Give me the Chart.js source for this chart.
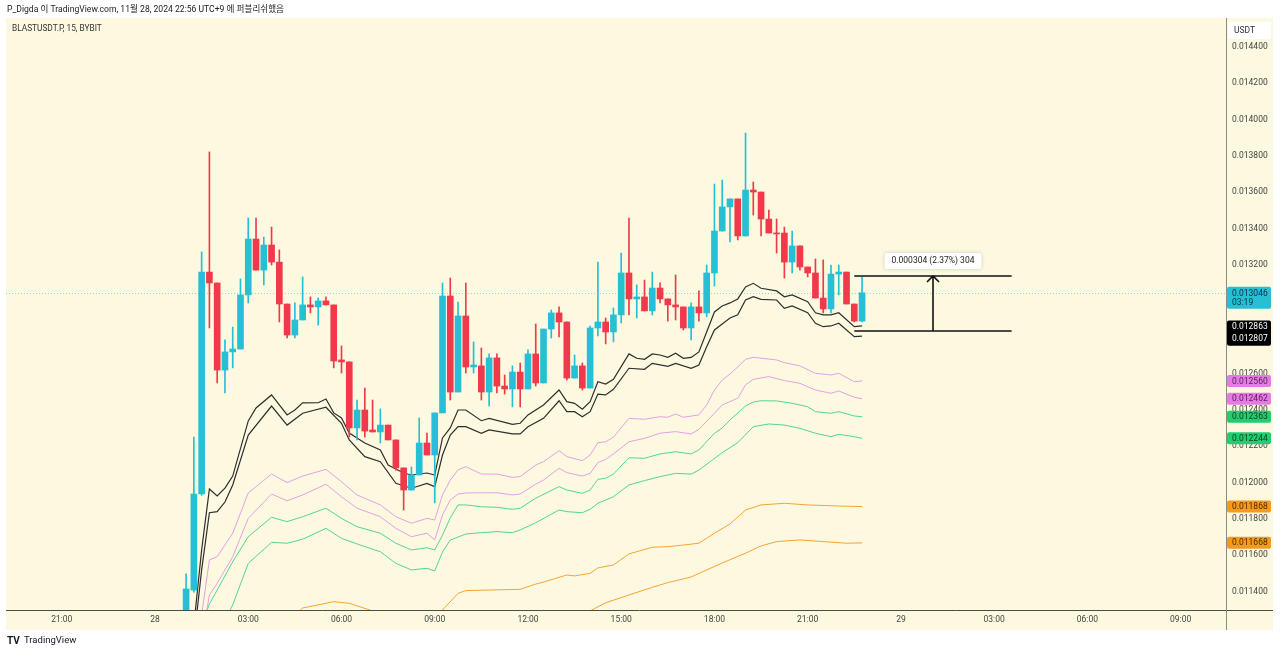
<!DOCTYPE html>
<html>
<head>
<meta charset="utf-8">
<script src="https://cdn.jsdelivr.net/npm/chart.js@4"></script>
<style>
  html, body { margin: 0; padding: 0; background: #fff; }
  #c { display: block; }
</style>
</head>
<body>
<canvas id="c" width="1280" height="654"></canvas>
<script>
// 15 minute bars, x value = bar number counted from 28 00:00
const firstBar = 4;
const openP = [0.011230,0.011408,0.011937,0.013160,0.013100,0.012620,0.012720,0.012736,0.013034,0.013342,
  0.013171,0.013309,0.013215,0.012984,0.012813,0.012896,0.012979,0.012968,0.013001,0.012979,
  0.012676,0.012665,0.012301,0.012400,0.012290,0.012279,0.012317,0.012235,0.012081,0.011959,
  0.012042,0.012218,0.012152,0.012384,0.013028,0.012499,0.012918,0.012637,0.012643,0.012499,
  0.012687,0.012532,0.012516,0.012609,0.012516,0.012709,0.012549,0.012846,0.012935,0.012885,
  0.012576,0.012643,0.012521,0.012852,0.012885,0.012830,0.012924,0.013155,0.013012,0.013023,
  0.012946,0.013072,0.013012,0.012979,0.012968,0.012852,0.012968,0.012935,0.013155,0.013386,
  0.013519,0.013563,0.013359,0.013612,0.013601,0.013452,0.013375,0.013375,0.013215,0.013304,
  0.013188,0.013155,0.013017,0.012957,0.013149,0.013160,0.012984,0.012890];
const highP = [0.011497,0.012251,0.013271,0.013822,0.013100,0.012786,0.012857,0.013122,0.013458,0.013458,
  0.013353,0.013408,0.013282,0.012984,0.012990,0.013133,0.013023,0.013017,0.013023,0.012979,
  0.012753,0.012665,0.012455,0.012521,0.012455,0.012406,0.012317,0.012235,0.012081,0.012086,
  0.012356,0.012273,0.012384,0.013100,0.013127,0.012995,0.013100,0.012775,0.012742,0.012709,
  0.012709,0.012593,0.012643,0.012659,0.012731,0.012874,0.012846,0.012951,0.012968,0.012885,
  0.012703,0.012659,0.012863,0.013215,0.012907,0.012962,0.013265,0.013458,0.013089,0.013116,
  0.013160,0.013100,0.013012,0.013144,0.012968,0.012990,0.013056,0.013199,0.013645,0.013667,
  0.013563,0.013563,0.013926,0.013656,0.013601,0.013502,0.013452,0.013408,0.013386,0.013304,
  0.013188,0.013232,0.013227,0.013199,0.013199,0.013160,0.012984,0.013133];
const lowP = [0.011200,0.011397,0.011930,0.012852,0.012549,0.012494,0.012632,0.012736,0.012990,0.013171,
  0.013089,0.013199,0.012885,0.012797,0.012797,0.012896,0.012935,0.012868,0.012979,0.012632,
  0.012604,0.012251,0.012235,0.012251,0.012279,0.012218,0.012235,0.012069,0.011849,0.011959,
  0.012042,0.012152,0.011888,0.012384,0.012455,0.012499,0.012604,0.012604,0.012455,0.012422,
  0.012494,0.012488,0.012417,0.012417,0.012516,0.012532,0.012549,0.012797,0.012802,0.012565,
  0.012576,0.012510,0.012521,0.012808,0.012764,0.012775,0.012879,0.012924,0.012907,0.012946,
  0.012924,0.012990,0.012890,0.012896,0.012841,0.012786,0.012890,0.012913,0.013083,0.013386,
  0.013326,0.013337,0.013359,0.013474,0.013359,0.013375,0.013265,0.013127,0.013155,0.013171,
  0.013133,0.013017,0.012935,0.012935,0.013034,0.012984,0.012885,0.012885];
const closeP = [0.011414,0.011937,0.013160,0.013100,0.012620,0.012720,0.012736,0.013034,0.013342,0.013171,
  0.013309,0.013215,0.012984,0.012813,0.012896,0.012979,0.012968,0.013001,0.012979,0.012670,
  0.012665,0.012301,0.012400,0.012284,0.012279,0.012317,0.012235,0.012081,0.011959,0.012042,
  0.012218,0.012152,0.012384,0.013028,0.012499,0.012918,0.012637,0.012648,0.012499,0.012687,
  0.012532,0.012516,0.012609,0.012516,0.012709,0.012549,0.012846,0.012935,0.012885,0.012576,
  0.012643,0.012521,0.012852,0.012885,0.012830,0.012924,0.013155,0.013012,0.013023,0.012946,
  0.013072,0.013012,0.012979,0.012968,0.012852,0.012968,0.012935,0.013155,0.013386,0.013519,
  0.013563,0.013359,0.013612,0.013601,0.013452,0.013375,0.013370,0.013215,0.013304,0.013188,
  0.013155,0.013017,0.012957,0.013149,0.013160,0.012984,0.012890,0.013046];

const timeLabels = ['21:00','28','03:00','06:00','09:00','12:00','15:00','18:00','21:00','29','03:00','06:00','09:00'];
const firstLabelBar = -12;

// indicator lines: [bar, price]
const blackUpper = [[5,0.011216],[6,0.011629],[7,0.011965],[8,0.011926],[9,0.011970],[10,0.012036],[12,0.012340],[13,0.012411],[15,0.012483],[17,0.012373],[18,0.012400],[19,0.012439],[21,0.012440],[22,0.012461],[23,0.012384],[24,0.012356],[25,0.012273],[27,0.012218],[29,0.012180],[30,0.012097],[32,0.012053],[33,0.012042],[35,0.012053],[36,0.012042],[37,0.012246],[38,0.012301],[39,0.012400],[40,0.012400],[42,0.012341],[43,0.012354],[46,0.012321],[47,0.012327],[48,0.012373],[50,0.012428],[52,0.012510],[53,0.012446],[54,0.012437],[55,0.012404],[56,0.012446],[57,0.012556],[58,0.012543],[59,0.012569],[61,0.012709],[62,0.012685],[63,0.012679],[64,0.012709],[65,0.012703],[66,0.012690],[67,0.012713],[68,0.012685],[69,0.012690],[70,0.012720],[71,0.012830],[72,0.012940],[73,0.012973],[74,0.012990],[75,0.013012],[76,0.013078],[77,0.013098],[78,0.013071],[80,0.013056],[81,0.013024],[82,0.013034],[84,0.012997],[85,0.012936],[86,0.012924],[87,0.012924],[88,0.012936],[90,0.012859],[91,0.012863]];
const blackLower = [[5,0.011133],[6,0.011519],[7,0.011834],[8,0.011840],[9,0.011893],[10,0.011987],[12,0.012262],[15,0.012422],[17,0.012317],[19,0.012382],[22,0.012415],[24,0.012327],[25,0.012235],[27,0.012143],[29,0.012115],[31,0.011996],[33,0.011969],[35,0.011996],[36,0.011978],[37,0.012152],[38,0.012262],[39,0.012308],[40,0.012308],[42,0.012272],[43,0.012290],[46,0.012268],[47,0.012268],[48,0.012308],[50,0.012354],[52,0.012451],[53,0.012391],[54,0.012391],[55,0.012363],[56,0.012391],[57,0.012488],[58,0.012483],[59,0.012514],[61,0.012630],[63,0.012624],[64,0.012657],[66,0.012641],[67,0.012657],[69,0.012630],[70,0.012648],[71,0.012749],[72,0.012841],[73,0.012874],[74,0.012907],[75,0.012924],[76,0.013006],[77,0.013024],[78,0.013010],[80,0.013006],[81,0.012960],[82,0.012973],[84,0.012936],[85,0.012878],[86,0.012859],[87,0.012863],[88,0.012878],[90,0.012804],[91,0.012807]];
const pinkUpper = [[6,0.011271],[7,0.011574],[8,0.011592],[10,0.011721],[12,0.011943],[15,0.012047],[17,0.012000],[19,0.012036],[22,0.012073],[24,0.012005],[26,0.011932],[29,0.011877],[31,0.011812],[33,0.011776],[35,0.011803],[36,0.011794],[37,0.011932],[38,0.012014],[39,0.012070],[40,0.012088],[42,0.012047],[44,0.012047],[46,0.012029],[47,0.012033],[49,0.012097],[50,0.012115],[52,0.012176],[53,0.012143],[55,0.012121],[56,0.012152],[57,0.012220],[58,0.012225],[59,0.012250],[61,0.012354],[63,0.012349],[65,0.012363],[66,0.012360],[67,0.012378],[68,0.012360],[70,0.012373],[71,0.012428],[72,0.012510],[73,0.012565],[74,0.012598],[75,0.012637],[76,0.012679],[77,0.012690],[80,0.012676],[81,0.012661],[83,0.012643],[85,0.012602],[87,0.012593],[88,0.012602],[90,0.012556],[91,0.012560]];
const pinkLower = [[6,0.011133],[7,0.011381],[8,0.011445],[10,0.011592],[12,0.011803],[15,0.011937],[17,0.011900],[19,0.011932],[22,0.011991],[24,0.011922],[26,0.011859],[29,0.011812],[31,0.011748],[33,0.011702],[35,0.011721],[36,0.011684],[37,0.011822],[38,0.011904],[39,0.011937],[40,0.011943],[42,0.011944],[44,0.011944],[46,0.011932],[47,0.011937],[49,0.011992],[50,0.012014],[52,0.012079],[53,0.012055],[55,0.012036],[56,0.012051],[57,0.012110],[58,0.012128],[59,0.012158],[61,0.012225],[63,0.012244],[65,0.012272],[67,0.012281],[69,0.012268],[70,0.012294],[72,0.012382],[73,0.012428],[75,0.012465],[76,0.012538],[77,0.012569],[79,0.012584],[81,0.012562],[83,0.012547],[85,0.012510],[87,0.012492],[88,0.012505],[90,0.012470],[91,0.012462]];
const greenUpper = [[6,0.011216],[7,0.011331],[8,0.011408],[10,0.011564],[12,0.011702],[15,0.011809],[17,0.011785],[19,0.011812],[22,0.011859],[24,0.011803],[26,0.011757],[29,0.011721],[31,0.011666],[33,0.011629],[35,0.011641],[36,0.011629],[37,0.011711],[38,0.011805],[39,0.011877],[40,0.011877],[42,0.011867],[44,0.011864],[46,0.011853],[47,0.011859],[49,0.011914],[52,0.011978],[53,0.011959],[55,0.011941],[56,0.011959],[57,0.012018],[58,0.012024],[59,0.012047],[61,0.012137],[63,0.012134],[65,0.012158],[67,0.012170],[69,0.012158],[70,0.012180],[72,0.012272],[73,0.012301],[74,0.012345],[75,0.012384],[76,0.012422],[77,0.012444],[78,0.012451],[80,0.012450],[82,0.012437],[84,0.012418],[85,0.012391],[87,0.012382],[88,0.012391],[90,0.012367],[91,0.012363]];
const greenLower = [[9,0.011243],[10,0.011326],[12,0.011555],[15,0.011671],[17,0.011666],[19,0.011688],[22,0.011748],[24,0.011693],[26,0.011662],[29,0.011619],[31,0.011555],[33,0.011519],[35,0.011528],[36,0.011513],[37,0.011618],[38,0.011684],[39,0.011700],[40,0.011717],[42,0.011724],[44,0.011730],[46,0.011724],[47,0.011739],[49,0.011779],[52,0.011849],[53,0.011840],[55,0.011834],[56,0.011853],[57,0.011886],[58,0.011904],[59,0.011922],[61,0.011987],[63,0.012011],[65,0.012033],[67,0.012051],[69,0.012047],[70,0.012069],[73,0.012165],[75,0.012220],[77,0.012308],[79,0.012323],[81,0.012317],[83,0.012299],[85,0.012272],[87,0.012253],[88,0.012266],[90,0.012253],[91,0.012244]];
const orangeUpper = [[18,0.011271],[19,0.011309],[23,0.011344],[25,0.011335],[28,0.011293],[30,0.011254],[33,0.011232],[36,0.011265],[37,0.011298],[39,0.011390],[40,0.011405],[43,0.011408],[47,0.011412],[49,0.011441],[50,0.011452],[53,0.011491],[54,0.011486],[56,0.011500],[57,0.011530],[59,0.011546],[61,0.011607],[64,0.011644],[66,0.011647],[68,0.011656],[70,0.011666],[72,0.011721],[74,0.011772],[76,0.011849],[78,0.011877],[81,0.011886],[84,0.011877],[88,0.011871],[91,0.011868]];
const orangeLower = [[50,0.011216],[56,0.011293],[58,0.011338],[61,0.011381],[64,0.011423],[66,0.011449],[69,0.011480],[71,0.011519],[73,0.011557],[76,0.011611],[78,0.011651],[80,0.011675],[83,0.011684],[86,0.011675],[89,0.011666],[91,0.011668]];

const lastPrice = 0.013046;
const countdown = '03:19';
const blackTagPrices = [0.012863, 0.012807];
const tagPrices = [0.012560, 0.012462, 0.012363, 0.012244, 0.011868, 0.011668];
const tagColors = ['#e37be3', '#e37be3', '#22cc70', '#22cc70', '#f59a1b', '#f59a1b'];
const tagText = ['#5b1a5b', '#5b1a5b', '#0b4326', '#0b4326', '#4e2a00', '#4e2a00'];

// price range tool
const measureLow = 0.012834, measureHigh = 0.013138;
const measureFrom = 90, measureTo = 110.25;
const measureText = '0.000304 (2.37%) 304';

const UP = '#26bfd6', DOWN = '#f0394b';
const FONT = 'Roboto, "Noto Sans", "Noto Sans CJK KR", sans-serif';
const cream = '#fdf9e0';

const bodies = openP.map((o, i) => ({ x: firstBar + i, y: [o, closeP[i]] }));
const wicks = lowP.map((l, i) => ({ x: firstBar + i, y: [l, highP[i]] }));
const barColors = openP.map((o, i) => closeP[i] >= o ? UP : DOWN);
const toPts = arr => arr.map(p => ({ x: p[0], y: p[1] }));

function lineSet(arr, color, width) {
  return { type: 'line', data: toPts(arr), borderColor: color, borderWidth: width || 1,
    pointRadius: 0, tension: 0, fill: false, order: 2 };
}

function roundRect(ctx, x, y, w, h, r) {
  ctx.beginPath();
  ctx.moveTo(x + r, y);
  ctx.arcTo(x + w, y, x + w, y + h, r);
  ctx.arcTo(x + w, y + h, x, y + h, r);
  ctx.arcTo(x, y + h, x, y, r);
  ctx.arcTo(x, y, x + w, y, r);
  ctx.closePath();
}

const tvPlugin = {
  id: 'tvLook',
  beforeDraw(chart) {
    const ctx = chart.ctx;
    ctx.save();
    ctx.fillStyle = '#ffffff';
    ctx.fillRect(0, 0, chart.width, chart.height);
    ctx.fillStyle = cream;
    ctx.fillRect(6, 18, 1267, 612);
    ctx.restore();
  },
  beforeDatasetsDraw(chart) {
    const { ctx, chartArea: a, scales: { y } } = chart;
    const py = Math.round(y.getPixelForValue(lastPrice)) + 0.5;
    ctx.save();
    ctx.strokeStyle = 'rgba(38,191,214,0.55)';
    ctx.lineWidth = 1;
    ctx.setLineDash([1, 2]);
    ctx.beginPath();
    ctx.moveTo(a.left, py);
    ctx.lineTo(a.right, py);
    ctx.stroke();
    ctx.restore();
  },
  afterDraw(chart) {
    const { ctx, chartArea: a, scales: { x, y } } = chart;
    ctx.save();
    // axis borders
    ctx.lineWidth = 1;
    ctx.strokeStyle = '#4d4d45';
    ctx.beginPath(); ctx.moveTo(6, a.bottom + 0.5); ctx.lineTo(1273, a.bottom + 0.5); ctx.stroke();
    ctx.strokeStyle = '#8d8d84';
    ctx.beginPath(); ctx.moveTo(a.right + 0.5, 18); ctx.lineTo(a.right + 0.5, 630); ctx.stroke();

    // currency box
    ctx.fillStyle = '#ffffff';
    ctx.fillRect(a.right + 2, 22, 43, 17);
    ctx.fillStyle = '#333';
    ctx.font = '8.5px ' + FONT;
    ctx.textBaseline = 'middle';
    ctx.fillText('USDT', a.right + 8, 31);

    const tx = a.right + 1, tw = 44;
    // indicator tags
    tagPrices.forEach((p, i) => {
      const py = y.getPixelForValue(p);
      ctx.fillStyle = tagColors[i];
      roundRect(ctx, tx, py - 6, tw, 12, 2);
      ctx.fill();
      ctx.fillStyle = tagText[i];
      ctx.fillText(p.toFixed(6), tx + 5, py + 0.5);
    });
    // black double tag
    const b1 = y.getPixelForValue(blackTagPrices[0]);
    const b2 = y.getPixelForValue(blackTagPrices[1]);
    ctx.fillStyle = '#000000';
    roundRect(ctx, tx, b1 - 5.5, tw, b2 - b1 + 15, 2);
    ctx.fill();
    ctx.fillStyle = '#ffffff';
    ctx.fillText(blackTagPrices[0].toFixed(6), tx + 5, b1 + 1);
    ctx.fillText(blackTagPrices[1].toFixed(6), tx + 5, b2 + 3);
    // last price tag
    const lp = y.getPixelForValue(lastPrice);
    ctx.fillStyle = UP;
    roundRect(ctx, tx, lp - 6, tw, 22, 2);
    ctx.fill();
    ctx.fillStyle = '#0e2f38';
    ctx.fillText(lastPrice.toFixed(6), tx + 5, lp + 1);
    ctx.fillText(countdown, tx + 5, lp + 10);

    // price range measurement
    const x0 = x.getPixelForValue(measureFrom), x1 = x.getPixelForValue(measureTo);
    const yt = Math.round(y.getPixelForValue(measureHigh)), yb = Math.round(y.getPixelForValue(measureLow));
    const xm = Math.round((x0 + x1) / 2);
    ctx.strokeStyle = '#111';
    ctx.lineWidth = 1.6;
    ctx.beginPath();
    ctx.moveTo(x0, yt); ctx.lineTo(x1, yt);
    ctx.moveTo(x0, yb); ctx.lineTo(x1, yb);
    ctx.moveTo(xm, yb); ctx.lineTo(xm, yt);
    ctx.moveTo(xm - 6, yt + 6); ctx.lineTo(xm, yt); ctx.lineTo(xm + 6, yt + 6);
    ctx.stroke();
    ctx.font = '8.5px ' + FONT;
    const lw = ctx.measureText(measureText).width + 14;
    ctx.shadowColor = 'rgba(0,0,0,0.18)';
    ctx.shadowBlur = 4;
    ctx.fillStyle = '#ffffff';
    roundRect(ctx, xm - lw / 2, yt - 23, lw, 16, 3);
    ctx.fill();
    ctx.shadowBlur = 0;
    ctx.shadowColor = 'transparent';
    ctx.fillStyle = '#222';
    ctx.textAlign = 'center';
    ctx.fillText(measureText, xm, yt - 15);
    ctx.textAlign = 'left';

    // titles
    ctx.fillStyle = '#222';
    ctx.font = '8.6px ' + FONT;
    ctx.fillText('P_Digda 이 TradingView.com, 11월 28, 2024 22:56 UTC+9 에 퍼블리쉬했음', 7, 10);
    ctx.font = '8.3px ' + FONT;
    ctx.fillStyle = '#333';
    ctx.fillText('BLASTUSDT.P, 15, BYBIT', 12, 29);
    ctx.fillStyle = '#131722';
    ctx.font = 'bold 10px ' + FONT;
    ctx.fillText('TV', 7, 641);
    ctx.font = '9.5px ' + FONT;
    ctx.fillText('TradingView', 24, 641);
    ctx.restore();
  }
};

new Chart(document.getElementById('c'), {
  type: 'bar',
  data: {
    datasets: [
      { data: bodies, backgroundColor: barColors, barThickness: 6, grouped: false,
        minBarLength: 1, borderWidth: 0, order: 0 },
      { data: wicks, backgroundColor: barColors, barThickness: 1, grouped: false,
        borderWidth: 0, order: 1 },
      lineSet(blackUpper, '#2e2e2e', 1.2),
      lineSet(blackLower, '#2e2e2e', 1.2),
      lineSet(pinkUpper, '#e69fe4'),
      lineSet(pinkLower, '#e69fe4'),
      lineSet(greenUpper, '#54d68f'),
      lineSet(greenLower, '#54d68f'),
      lineSet(orangeUpper, '#f5a436'),
      lineSet(orangeLower, '#f5a436')
    ]
  },
  options: {
    responsive: false,
    animation: false,
    layout: { padding: { left: 6, top: 18, right: 8, bottom: 24 } },
    plugins: { legend: { display: false }, tooltip: { enabled: false }, title: { display: false } },
    scales: {
      x: {
        type: 'linear',
        min: -19.18,
        max: 137.84,
        offset: false,
        grid: { display: false, drawTicks: false },
        border: { display: false },
        afterFit: s => { s.height = 20; },
        ticks: {
          stepSize: 12,
          includeBounds: false,
          maxRotation: 0,
          autoSkip: false,
          padding: 5,
          color: '#444',
          font: { family: FONT, size: 8.5 },
          callback: v => timeLabels[(v - firstLabelBar) / 12] || ''
        }
      },
      y: {
        position: 'right',
        min: 0.0112981,
        max: 0.0145598,
        grid: { display: false, drawTicks: false },
        border: { display: false },
        afterFit: s => { s.width = 46; },
        ticks: {
          stepSize: 0.0002,
          includeBounds: false,
          padding: 6,
          color: '#444',
          font: { family: FONT, size: 8.5 },
          callback: v => v.toFixed(6)
        }
      }
    }
  },
  plugins: [tvPlugin]
});
</script>
</body>
</html>
